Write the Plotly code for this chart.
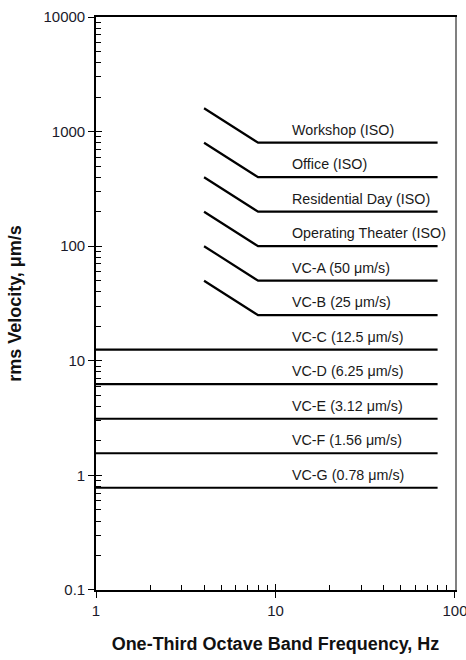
import plotly.graph_objects as go
import math

# ISO criteria: slope from 4 Hz to 8 Hz, flat from 8 to 80 Hz
iso_labels = ["Workshop (ISO)", "Office (ISO)", "Residential Day (ISO)",
              "Operating Theater (ISO)", "VC-A (50 μm/s)", "VC-B (25 μm/s)"]
iso_values = [800, 400, 200, 100, 50, 25]
iso_freq = [4, 8, 80]

# VC-C .. VC-G: flat from 1 to 80 Hz
vc_labels = ["VC-C (12.5 μm/s)", "VC-D (6.25 μm/s)", "VC-E (3.12 μm/s)",
             "VC-F (1.56 μm/s)", "VC-G (0.78 μm/s)"]
vc_values = [12.5, 6.25, 3.12, 1.56, 0.78]
vc_freq = [1, 80]

label_freq = 12.0

y_ticks = [0.1, 1, 10, 100, 1000, 10000]
y_minor = [m * 10 ** e for e in range(-1, 4) for m in range(2, 10)]
x_ticks = [1, 10, 100]
x_minor = [m * 10 ** e for e in range(0, 2) for m in range(2, 10)]

fig = go.Figure()
LW = 2.2
FONT = "Liberation Sans, Arial"
for lab, v in zip(iso_labels, iso_values):
    fig.add_trace(go.Scatter(x=iso_freq, y=[2 * v, v, v], mode="lines",
                             line=dict(color="black", width=LW), showlegend=False, hoverinfo="skip"))
    fig.add_annotation(x=math.log10(label_freq), y=math.log10(v), text=lab, showarrow=False,
                       xanchor="left", yanchor="bottom", yshift=3,
                       font=dict(family=FONT, size=14.3, color="#1a1a1a"))
for lab, v in zip(vc_labels, vc_values):
    fig.add_trace(go.Scatter(x=vc_freq, y=[v, v], mode="lines",
                             line=dict(color="black", width=LW), showlegend=False, hoverinfo="skip"))
    fig.add_annotation(x=math.log10(label_freq), y=math.log10(v), text=lab, showarrow=False,
                       xanchor="left", yanchor="bottom", yshift=3,
                       font=dict(family=FONT, size=14.3, color="#1a1a1a"))

# invisible traces for overlay axes
fig.add_trace(go.Scatter(x=[1, 100], y=[0.1, 10000], xaxis="x2", yaxis="y2", mode="markers",
                         marker=dict(opacity=0), showlegend=False, hoverinfo="skip"))
fig.add_trace(go.Scatter(x=[1, 100], y=[0.1, 10000], xaxis="x", yaxis="y3", mode="markers",
                         marker=dict(opacity=0), showlegend=False, hoverinfo="skip"))

XR = [0, 2.0001]
YR = [-1.0001, 4.0001]
font_tick = dict(family=FONT, size=15, color="#1a1a2a")
minor_style = dict(ticks="inside", ticklen=5, tickwidth=1.2, tickcolor="black", showgrid=False)
fig.update_layout(
    width=466, height=660,
    margin=dict(l=96, r=11, t=17, b=70),
    plot_bgcolor="white", paper_bgcolor="white",
    xaxis=dict(type="log", range=XR, tickmode="array", tickvals=x_ticks, ticktext=[str(t) for t in x_ticks],
               ticks="outside", ticklen=6, tickwidth=1.3, tickcolor="black",
               minor=dict(tickmode="array", tickvals=x_minor, **minor_style),
               showline=True, linecolor="black", linewidth=1.6, mirror=True,
               showgrid=False, zeroline=False, automargin=False, ticklabeloverflow="allow",
               tickfont=font_tick,
               title=dict(text="<b>One-Third Octave Band Frequency, Hz</b>", standoff=20,
                          font=dict(family=FONT, size=18, color="#111"))),
    yaxis=dict(type="log", range=YR, tickmode="array", tickvals=y_ticks,
               ticktext=["0.1", "1", "10", "100", "1000", "10000"],
               ticks="outside", ticklen=6, tickwidth=1.3, tickcolor="black",
               minor=dict(tickmode="array", tickvals=y_minor, **minor_style),
               showline=True, linecolor="black", linewidth=1.6,
               showgrid=False, zeroline=False, automargin=False, ticklabeloverflow="allow",
               tickfont=font_tick,
               title=dict(text="<b>rms Velocity, μm/s</b>", standoff=17,
                          font=dict(family=FONT, size=18, color="#111"))),
    xaxis2=dict(type="log", range=XR, overlaying="x", side="bottom", tickmode="array", tickvals=x_ticks,
                ticks="inside", ticklen=6, tickwidth=1.3, tickcolor="black",
                showticklabels=False, showline=False, showgrid=False, zeroline=False, automargin=False),
    yaxis2=dict(type="log", range=YR, overlaying="y", side="left", tickmode="array", tickvals=y_ticks,
                ticks="inside", ticklen=6, tickwidth=1.3, tickcolor="black",
                showticklabels=False, showline=False, showgrid=False, zeroline=False, automargin=False),
    yaxis3=dict(type="log", range=YR, overlaying="y", side="right",
                ticks="", showticklabels=False, showline=True, linecolor="#808080", linewidth=1.6,
                showgrid=False, zeroline=False, automargin=False),
)

fig.write_html("out.html")
